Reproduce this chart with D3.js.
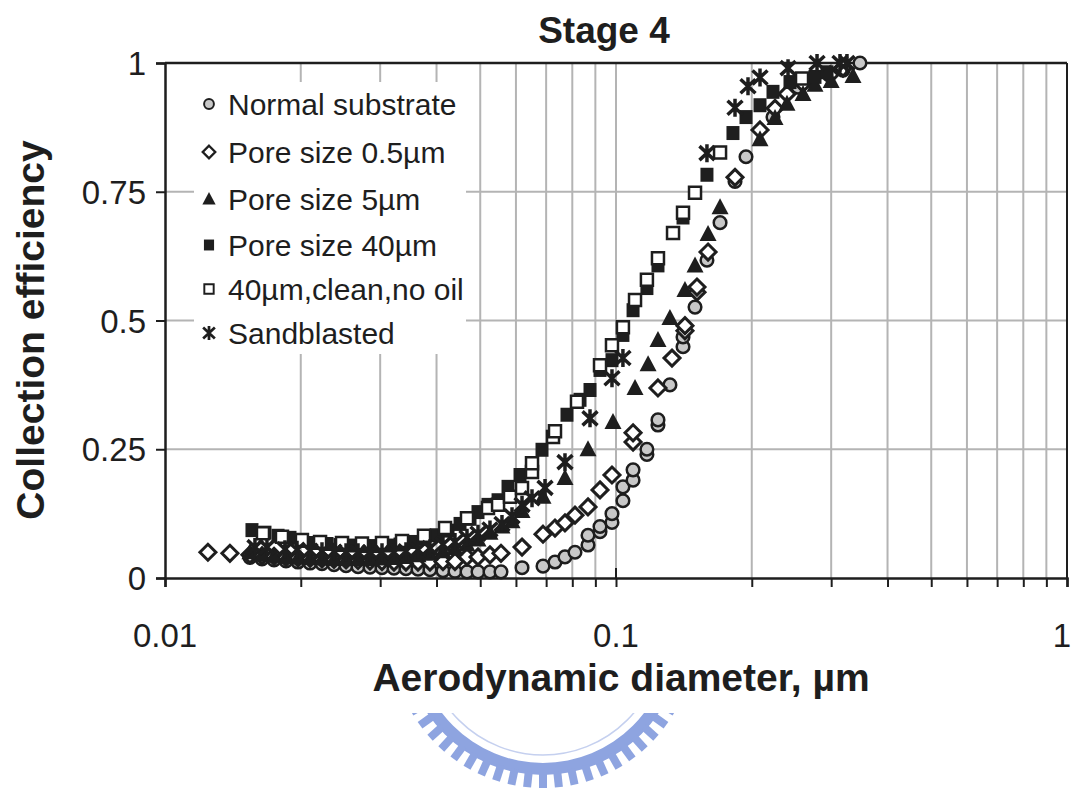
<!DOCTYPE html>
<html>
<head>
<meta charset="utf-8">
<script src="https://cdn.jsdelivr.net/npm/d3@7"></script>
<style>
  body { margin: 0; background: #fff; }
  svg { display: block; font-family: "Liberation Sans", Arial, sans-serif; }
</style>
</head>
<body>
<svg id="chart" width="1072" height="790"></svg>
<script>
//-----------------------------------------------------//
// Data: [aerodynamic diameter (um), collection efficiency]

const normalSubstrate = [
  [0.01543,0.040],[0.01641,0.037],[0.01745,0.035],[0.01855,0.033],[0.01972,0.031],[0.02097,0.029],
  [0.02229,0.028],[0.02370,0.026],[0.02520,0.024],[0.02679,0.022],[0.02848,0.021],[0.03028,0.020],
  [0.03219,0.019],[0.03422,0.018],[0.03639,0.017],[0.03868,0.016],[0.04134,0.014],[0.04395,0.013],
  [0.04673,0.012],[0.04943,0.012],[0.05255,0.012],[0.05559,0.012],[0.06189,0.020],[0.06889,0.023],
  [0.07324,0.031],[0.07707,0.041],[0.08111,0.050],[0.08668,0.064],[0.08668,0.083],[0.09216,0.090],
  [0.09216,0.100],[0.09797,0.108],[0.09797,0.125],[0.1036,0.150],[0.1036,0.177],[0.1091,0.190],
  [0.1091,0.210],[0.1171,0.240],[0.1171,0.250],[0.1239,0.297],[0.1239,0.307],[0.1317,0.375],
  [0.1408,0.449],[0.1408,0.468],[0.1497,0.526],[0.1591,0.617],[0.1701,0.690],[0.1836,0.770],
  [0.1942,0.818],[0.2229,0.895],[0.2532,0.953],[0.2967,0.977],[0.3187,0.986],[0.3475,1.000]
];

const poreSize05 = [
  [0.01245,0.050],[0.01393,0.048],[0.01543,0.045],[0.01641,0.043],[0.01745,0.042],[0.01855,0.040],
  [0.01972,0.039],[0.02097,0.038],[0.02229,0.037],[0.02370,0.036],[0.02520,0.035],[0.02679,0.034],
  [0.02848,0.033],[0.03028,0.032],[0.03219,0.031],[0.03422,0.031],[0.03639,0.031],[0.03868,0.031],
  [0.04134,0.032],[0.04395,0.032],[0.04673,0.041],[0.04943,0.041],[0.05255,0.045],[0.05559,0.048],
  [0.06189,0.060],[0.06889,0.085],[0.07324,0.097],[0.07707,0.107],[0.08111,0.122],[0.08668,0.138],
  [0.09216,0.171],[0.09797,0.200],[0.1091,0.264],[0.1091,0.282],[0.1239,0.369],[0.1331,0.427],
  [0.1422,0.480],[0.1422,0.490],[0.1512,0.555],[0.1512,0.565],[0.1600,0.633],[0.1836,0.778],
  [0.2086,0.870],[0.2252,0.912],[0.2394,0.940],[0.2598,0.960],[0.2983,0.977],[0.3187,0.990]
];

const poreSize5 = [
  [0.01543,0.050],[0.01641,0.045],[0.01745,0.043],[0.01855,0.041],[0.01972,0.040],[0.02097,0.039],
  [0.02229,0.038],[0.02370,0.037],[0.02520,0.037],[0.02679,0.037],[0.02848,0.037],[0.03028,0.038],
  [0.03219,0.039],[0.03422,0.041],[0.03639,0.044],[0.03868,0.047],[0.04134,0.052],[0.04395,0.058],
  [0.04673,0.065],[0.04943,0.075],[0.05255,0.088],[0.05587,0.100],[0.05881,0.110],[0.06189,0.130],
  [0.06889,0.158],[0.07707,0.194],[0.08668,0.250],[0.09847,0.303],[0.1102,0.369],[0.1178,0.415],
  [0.1239,0.462],[0.1317,0.505],[0.1422,0.559],[0.1497,0.607],[0.1600,0.668],[0.1701,0.720],
  [0.2086,0.852],[0.2252,0.893],[0.2394,0.921],[0.2598,0.940],[0.2762,0.958],[0.3000,0.965],
  [0.3354,0.975]
];

const poreSize40 = [
  [0.01559,0.093],[0.01666,0.088],[0.01781,0.082],[0.01893,0.078],[0.02012,0.072],[0.02151,0.068],
  [0.02287,0.066],[0.02443,0.064],[0.02598,0.063],[0.02762,0.062],[0.02937,0.062],[0.03123,0.063],
  [0.03320,0.065],[0.03529,0.070],[0.03752,0.076],[0.03990,0.083],[0.04242,0.092],[0.04510,0.105],
  [0.04746,0.115],[0.04943,0.128],[0.05202,0.142],[0.05476,0.151],[0.05762,0.177],[0.06126,0.200],
  [0.06854,0.249],[0.07250,0.274],[0.07786,0.317],[0.08322,0.346],[0.08757,0.365],[0.09216,0.404],
  [0.09797,0.423],[0.1036,0.472],[0.1091,0.520],[0.1171,0.563],[0.1239,0.607],[0.1408,0.700],
  [0.1591,0.783],[0.1817,0.864],[0.1942,0.895],[0.2086,0.918],[0.2229,0.944],[0.2431,0.963],
  [0.2762,0.973],[0.2937,0.982]
];

const cleanNoOil = [
  [0.01649,0.087],[0.01817,0.080],[0.02012,0.074],[0.02207,0.070],[0.02469,0.068],[0.02734,0.067],
  [0.03028,0.068],[0.03354,0.072],[0.03752,0.082],[0.04177,0.097],[0.04673,0.116],[0.05202,0.136],
  [0.05476,0.142],[0.05821,0.158],[0.06189,0.175],[0.06513,0.206],[0.06513,0.223],[0.07250,0.274],
  [0.07324,0.285],[0.08194,0.342],[0.09216,0.413],[0.09797,0.452],[0.1036,0.487],[0.1102,0.540],
  [0.1171,0.579],[0.1239,0.621],[0.1338,0.670],[0.1408,0.709],[0.1497,0.748],[0.1701,0.826],
  [0.2585,0.970]
];

const sandblasted = [
  [0.01583,0.060],[0.01683,0.060],[0.01845,0.056],[0.01962,0.055],[0.02097,0.053],[0.02229,0.052],
  [0.02370,0.051],[0.02520,0.050],[0.02679,0.050],[0.02848,0.050],[0.03028,0.050],[0.03219,0.050],
  [0.03422,0.052],[0.03639,0.055],[0.03868,0.058],[0.04134,0.065],[0.04395,0.070],[0.04673,0.078],
  [0.04943,0.086],[0.05255,0.094],[0.05587,0.105],[0.05881,0.120],[0.06189,0.142],[0.06513,0.155],
  [0.06960,0.175],[0.07707,0.225],[0.08757,0.310],[0.09797,0.388],[0.1036,0.427],[0.1591,0.825],
  [0.1836,0.913],[0.1962,0.955],[0.2086,0.972],[0.2407,0.990],[0.2791,1.000],[0.3138,1.000],
  [0.3252,1.000]
];

const seriesNames = ["Normal substrate", "Pore size 0.5\u00b5m", "Pore size 5\u00b5m",
                     "Pore size 40\u00b5m", "40\u00b5m,clean,no oil", "Sandblasted"];
const yTickValues = [0, 0.25, 0.5, 0.75, 1];
const xTickLabels = [0.01, 0.1, 1];

//-----------------------------------------------------//

const ink = "#1e1e1e";
const gridColor = "#b4b4b4";

const svg = d3.select("#chart");
const plotLeft = 165, plotRight = 1067, plotTop = 63, plotBottom = 578;

const x = d3.scaleLog().domain([0.01, 1]).range([plotLeft, plotRight]);
const y = d3.scaleLinear().domain([0, 1]).range([plotBottom, plotTop]);

// watermark gear (behind everything)
drawWatermark();

// grid
const grid = svg.append("g");
grid.selectAll(".vgrid")
  .data(x.ticks().filter(d => d > 0.0101 && d < 0.99))
  .enter().append("line")
  .attr("x1", d => x(d)).attr("x2", d => x(d))
  .attr("y1", plotTop).attr("y2", plotBottom)
  .attr("stroke", gridColor).attr("stroke-width", 2);
grid.selectAll(".hgrid")
  .data(yTickValues.filter(d => d > 0 && d < 1))
  .enter().append("line")
  .attr("x1", plotLeft).attr("x2", plotRight)
  .attr("y1", d => y(d)).attr("y2", d => y(d))
  .attr("stroke", gridColor).attr("stroke-width", 2);

// legend background hides the grid
svg.append("rect")
  .attr("x", 194).attr("y", 82).attr("width", 272).attr("height", 272)
  .attr("fill", "#fff");

// axes
const xAxis = d3.axisBottom(x).tickValues(x.ticks()).tickSize(9).tickFormat("");
svg.append("g").attr("transform", `translate(0,${plotBottom})`).call(xAxis)
  .call(g => g.select(".domain").attr("stroke", ink).attr("stroke-width", 2.5))
  .call(g => g.selectAll(".tick line").attr("stroke", ink).attr("stroke-width", 2));

// major tick at 0.1 crosses the axis
svg.append("line")
  .attr("x1", x(0.1)).attr("x2", x(0.1))
  .attr("y1", plotBottom - 10).attr("y2", plotBottom)
  .attr("stroke", ink).attr("stroke-width", 2);

const yAxis = d3.axisLeft(y).tickValues(yTickValues).tickSize(9).tickFormat("");
svg.append("g").attr("transform", `translate(${plotLeft},0)`).call(yAxis)
  .call(g => g.select(".domain").attr("stroke", ink).attr("stroke-width", 2.5))
  .call(g => g.selectAll(".tick line").attr("stroke", ink).attr("stroke-width", 2));

// top and right border
svg.append("line").attr("x1", plotLeft).attr("x2", plotRight)
  .attr("y1", plotTop).attr("y2", plotTop).attr("stroke", ink).attr("stroke-width", 2.5);
svg.append("line").attr("x1", plotRight).attr("x2", plotRight)
  .attr("y1", plotTop).attr("y2", plotBottom).attr("stroke", ink).attr("stroke-width", 2);

// tick labels
svg.selectAll(".ylab").data(yTickValues).enter().append("text")
  .attr("x", 146).attr("y", d => y(d) + 12)
  .attr("text-anchor", "end").attr("font-size", 33).attr("fill", ink)
  .text(d => d);
svg.selectAll(".xlab").data(xTickLabels).enter().append("text")
  .attr("x", d => d === 1 ? 1071 : x(d)).attr("y", 647)
  .attr("text-anchor", d => d === 1 ? "end" : "middle")
  .attr("font-size", 33).attr("fill", ink)
  .text(d => d);

// titles
svg.append("text").attr("x", 604).attr("y", 43).attr("text-anchor", "middle")
  .attr("font-size", 37).attr("font-weight", "bold").attr("fill", ink).text("Stage 4");
svg.append("text").attr("x", 621).attr("y", 691).attr("text-anchor", "middle")
  .attr("font-size", 39).attr("font-weight", "bold").attr("fill", ink)
  .text("Aerodynamic diameter, \u00b5m");
svg.append("text").attr("transform", "translate(44,330) rotate(-90)").attr("text-anchor", "middle")
  .attr("font-size", 39).attr("font-weight", "bold").attr("fill", ink)
  .text("Collection efficiency");

//-----------------------------------------------------//
// marker shapes

const markers = [
  { d: () => d3.symbol(d3.symbolCircle, 125)(), fill: "#c8c8c8", stroke: ink, sw: 2.5 },
  { d: () => "M0,-8L8,0L0,8L-8,0Z", fill: "#fff", stroke: ink, sw: 3 },
  { d: () => "M0,-9L8.5,7L-8.5,7Z", fill: ink, stroke: "none", sw: 0 },
  { d: () => "M-6.5,-7H6.5V7H-6.5Z", fill: ink, stroke: "none", sw: 0 },
  { d: () => "M-6,-6H6V6H-6Z", fill: "#fff", stroke: ink, sw: 2.5 },
  { d: () => "M0,-9V9M-7.5,-7L7.5,7M-7.5,7L7.5,-7", fill: "none", stroke: ink, sw: 3.5 }
];

const allSeries = [normalSubstrate, poreSize05, poreSize5, poreSize40, cleanNoOil, sandblasted];

const marks = svg.append("g");
allSeries.forEach(function(data, i)
{
  const m = markers[i];
  marks.append("g").selectAll("path")
    .data(data)
    .enter().append("path")
    .attr("transform", d => `translate(${x(d[0])},${y(d[1])})`)
    .attr("d", m.d())
    .attr("fill", m.fill)
    .attr("stroke", m.stroke)
    .attr("stroke-width", m.sw);
});

// legend
const legend = svg.append("g");
const legendRows = [104, 152, 199, 245, 289, 333];
seriesNames.forEach(function(name, i)
{
  const m = markers[i];
  legend.append("path")
    .attr("transform", `translate(209,${legendRows[i]}) scale(0.78)`)
    .attr("d", m.d())
    .attr("fill", m.fill).attr("stroke", m.stroke).attr("stroke-width", m.sw);
  legend.append("text")
    .attr("x", 228).attr("y", legendRows[i] + 11)
    .attr("font-size", 30).attr("fill", ink)
    .text(name);
});

//-----------------------------------------------------//

function drawWatermark()
{
  const cx = 543, cy = 636;
  const wm = svg.append("g");
  svg.append("clipPath").attr("id", "wmclip")
    .append("rect").attr("x", 0).attr("y", 713).attr("width", 1072).attr("height", 80);
  wm.attr("clip-path", "url(#wmclip)");
  const blue = "#8ea4e0";
  wm.append("path")
    .attr("transform", `translate(${cx},${cy})`)
    .attr("d", d3.arc()({ innerRadius: 127, outerRadius: 139, startAngle: 0, endAngle: 2 * Math.PI }))
    .attr("fill", blue);
  wm.append("circle").attr("cx", cx).attr("cy", cy).attr("r", 119)
    .attr("fill", "none").attr("stroke", "#c5d0ef").attr("stroke-width", 1.5);
  const teeth = d3.range(0, 360, 6);
  wm.selectAll(".tooth").data(teeth).enter().append("rect")
    .attr("x", -4).attr("y", 136).attr("width", 8).attr("height", 16)
    .attr("fill", blue)
    .attr("transform", d => `translate(${cx},${cy}) rotate(${d})`);
}
</script>
</body>
</html>
